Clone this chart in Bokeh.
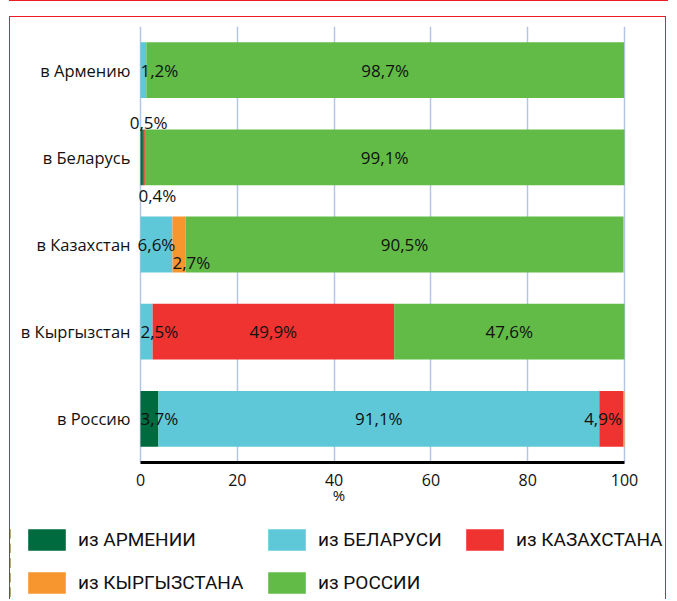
from bokeh.plotting import figure
from bokeh.models import (ColumnDataSource, Legend, LegendItem, FactorRange, Range1d,
                          FixedTicker, LabelSet, Div)
from bokeh.layouts import column
from bokeh.core.properties import value
from bokeh.embed import file_html
from bokeh.resources import INLINE

# ---------------- data ----------------
destinations = ["в Армению", "в Беларусь", "в Казахстан", "в Кыргызстан", "в Россию"]
from_armenia = [0.0, 0.5, 0.0, 0.0, 3.7]
from_belarus = [1.2, 0.0, 6.6, 2.5, 91.1]
from_kazakhstan = [0.0, 0.4, 0.0, 49.9, 4.9]
from_kyrgyzstan = [0.0, 0.0, 2.7, 0.0, 0.3]
from_russia = [98.7, 99.1, 90.5, 47.6, 0.0]
series_keys = ["arm", "bel", "kaz", "kyr", "rus"]
series_names = ["из АРМЕНИИ", "из БЕЛАРУСИ", "из КАЗАХСТАНА", "из КЫРГЫЗСТАНА", "из РОССИИ"]
colors = ["#006b3f", "#5ec8d8", "#ef3330", "#f7962f", "#62bb46"]
x_ticks = [0, 20, 40, 60, 80, 100]

# label placement style for narrow segments (default: centred)
label_mode = {("в Армению", "bel"): "start",
              ("в Беларусь", "arm"): "above",
              ("в Беларусь", "kaz"): "below",
              ("в Казахстан", "kyr"): "start_low",
              ("в Кыргызстан", "bel"): "start",
              ("в Россию", "arm"): "start",
              ("в Россию", "kaz"): "end"}

series_values = [from_armenia, from_belarus, from_kazakhstan, from_kyrgyzstan, from_russia]
data = {"dest": destinations}
for k, v in zip(series_keys, series_values):
    data[k] = v
source = ColumnDataSource(data)

BAR_H = 0.64
FONT = "Open Sans"
LEG_FONT = "Roboto"
RED = "#ed1c24"
W = 657
H = 510
LEFT_PX, RIGHT_PX = 130, 43          # space for category labels / right margin
PLOT_PX = W - LEFT_PX - RIGHT_PX     # pixels spanned by 0..100
MT, MB = 9, 65
FRAME_H = H - MT - MB
ppu = PLOT_PX / 100.0

# thin red rule at the very top (bottom edge of the preceding panel)
top_rule = Div(text="", width=W + 2, height=1, margin=(0, 0, 0, 9),
               styles={"background-color": RED})

p = figure(y_range=FactorRange(*reversed(destinations), range_padding=0),
           x_range=Range1d(-LEFT_PX / ppu, 100 + RIGHT_PX / ppu),
           width=W, height=H, y_axis_location=None,
           min_border_left=0, min_border_right=0, min_border_top=MT, min_border_bottom=MB,
           output_backend="svg", toolbar_location=None, margin=(15, 0, 0, 9))
p.styles = {"border-left": f"1px solid {RED}", "border-right": f"1px solid {RED}",
            "border-top": f"1px solid {RED}"}

renderers = p.hbar_stack(series_keys, y="dest", height=BAR_H, color=colors, source=source,
                         line_width=0)

# ---- category labels (left of the 0 line) ----
cat_src = ColumnDataSource(dict(x=[x_ticks[0]] * len(destinations), y=destinations,
                                text=destinations))
p.add_layout(LabelSet(x="x", y="y", text="text", source=cat_src, x_offset=-10,
                      text_align="right", text_baseline="middle",
                      text_font=value(FONT), text_font_size="16.5px", text_color="#111111"))

# ---- data labels ----
groups = {"center": dict(x=[], y=[], text=[], xo=[], yo=[]),
          "left": dict(x=[], y=[], text=[], xo=[], yo=[]),
          "right": dict(x=[], y=[], text=[], xo=[], yo=[])}
half_px = BAR_H * FRAME_H / len(destinations) / 2
for i, d in enumerate(destinations):
    start = 0.0
    for k, vals in zip(series_keys, series_values):
        v = vals[i]
        if v >= 0.4:
            mode = label_mode.get((d, k), "center")
            txt = f"{v:.1f}%".replace(".", ",")
            if mode == "center":
                g, x, xo, yo = "center", start + v / 2, 0, 0
            elif mode == "start":
                g, x, xo, yo = "left", start, 0, 0
            elif mode == "end":
                g, x, xo, yo = "right", start + v, -1, 0
            elif mode == "start_low":
                g, x, xo, yo = "left", start, 0, -(half_px - 10)
            elif mode == "above":
                g, x, xo, yo = "center", start + v / 2, 7, half_px + 7
            else:  # below
                g, x, xo, yo = "left", 0, -2, -(half_px + 10)
            gg = groups[g]
            gg["x"].append(x); gg["y"].append(d); gg["text"].append(txt)
            gg["xo"].append(xo); gg["yo"].append(yo)
        start += v
for align, gdata in groups.items():
    ls = LabelSet(x="x", y="y", text="text", source=ColumnDataSource(gdata),
                  x_offset="xo", y_offset="yo", text_align=align, text_baseline="middle",
                  text_font=value(FONT), text_font_size="17px", text_color="#111111")
    p.add_layout(ls)

# ---- axes / grid ----
p.xaxis.ticker = FixedTicker(ticks=x_ticks)
p.xaxis.bounds = (x_ticks[0], x_ticks[-1])
p.xaxis.axis_label = "%"
p.xaxis.axis_line_width = 3
p.xaxis.axis_line_color = "black"
p.xaxis.major_tick_line_color = None
p.xaxis.minor_tick_line_color = None
p.xaxis.major_tick_out = 0
p.xaxis.major_label_standoff = 11
p.xaxis.axis_label_standoff = -4
p.xaxis.major_label_text_font = FONT
p.xaxis.major_label_text_font_size = "16px"
p.xaxis.major_label_text_color = "#111111"
p.xaxis.axis_label_text_font = FONT
p.xaxis.axis_label_text_font_size = "15px"
p.xaxis.axis_label_text_font_style = "normal"
p.xaxis.axis_label_text_color = "#111111"

p.xgrid.grid_line_color = "#b4c6e7"
p.xgrid.grid_line_width = 1.5
p.ygrid.visible = False
p.outline_line_color = None

# ---- legend panel: bars drawn outside its visible x-range, only the legends show ----
LH = 73
legfig = figure(width=W, height=LH, x_range=Range1d(200, 300),
                y_range=FactorRange(*reversed(destinations), range_padding=0),
                x_axis_type=None, y_axis_type=None,
                min_border_left=0, min_border_right=0, min_border_top=0, min_border_bottom=0,
                output_backend="svg", toolbar_location=None, margin=(0, 0, 0, 9))
legfig.styles = {"border-left": f"1px solid {RED}", "border-right": f"1px solid {RED}"}
legfig.outline_line_color = None
legfig.grid.visible = False
swatches = legfig.hbar_stack(series_keys, y="dest", height=BAR_H, color=colors,
                             source=source, line_width=0)

columns = [[0, 3], [1, 4], [2]]
col_x = [13, 253, 451]
ROW_PITCH = 43
for idxs, cx in zip(columns, col_x):
    items = [LegendItem(label=series_names[j], renderers=[swatches[j]]) for j in idxs]
    leg = Legend(items=items, orientation="vertical",
                 location=(cx, (LH - 70) + (2 - len(idxs)) * ROW_PITCH),
                 glyph_width=47, glyph_height=27, label_height=27, label_standoff=8,
                 spacing=ROW_PITCH - 27,
                 label_text_font=LEG_FONT, label_text_font_size="19px",
                 label_text_color="#111111", label_text_baseline="middle",
                 border_line_color=None, background_fill_alpha=0, padding=0, margin=0)
    legfig.add_layout(leg)

layout = column(top_rule, p, legfig, spacing=0)
open("out.html", "w").write(file_html(layout, INLINE))
